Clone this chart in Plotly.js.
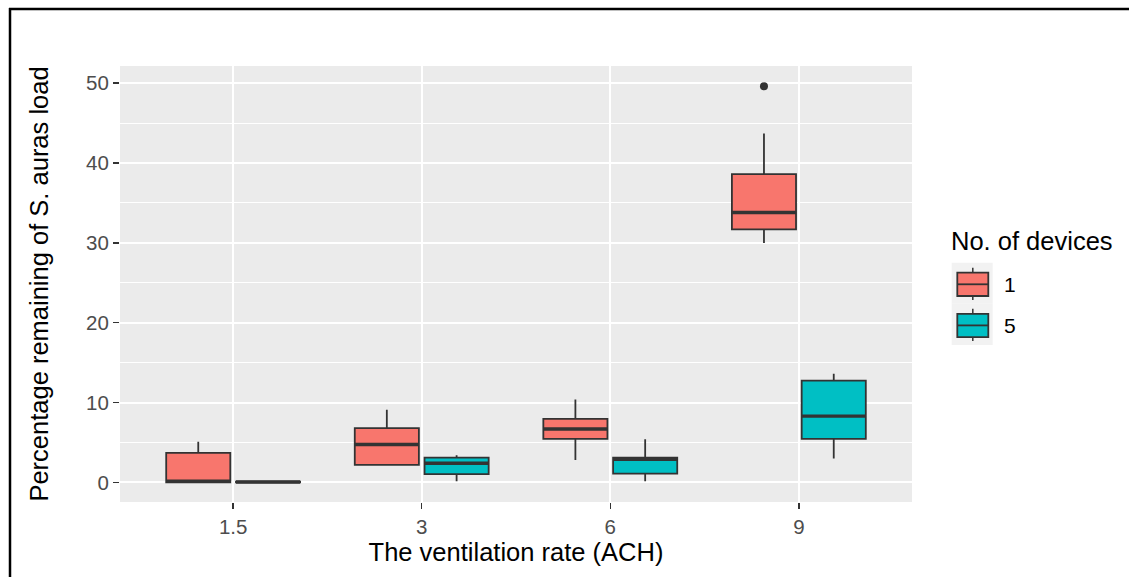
<!DOCTYPE html>
<html>
<head>
<meta charset="utf-8">
<script src="https://cdn.plot.ly/plotly-3.0.1.min.js"></script>
<style>
  html, body { margin: 0; padding: 0; background: #ffffff; overflow: hidden; }
  #chart { width: 1130px; height: 577px; }
</style>
</head>
<body>
<div id="chart"></div>
<script>
// ---- Data ----
const categories = ['1.5', '3', '6', '9'];
const groupNames = ['1', '5'];
const groupColors = ['#F8766D', '#00BFC4'];

// No. of devices = 1
const lower1  = [0.0, 2.2, 2.8, 30.0];
const q1_1    = [0.0, 2.2, 5.45, 31.7];
const median1 = [0.15, 4.75, 6.7, 33.8];
const q3_1    = [3.7, 6.8, 7.95, 38.6];
const upper1  = [5.1, 9.1, 10.4, 43.7];

// No. of devices = 5
const lower5  = [0.0, 0.15, 0.15, 3.0];
const q1_5    = [0.0, 1.05, 1.1, 5.45];
const median5 = [0.05, 2.4, 2.9, 8.3];
const q3_5    = [0.1, 3.1, 3.1, 12.75];
const upper5  = [0.1, 3.4, 5.4, 13.6];

// Outliers
const outlierCategory = ['9'];
const outlierGroup = ['1'];
const outlierValue = [49.6];

const yTickValues = [0, 10, 20, 30, 40, 50];

// ---- Styling / layout ----
const W = 1130, H = 577;
const M = { l: 120, r: 218, t: 66, b: 75 };
const plotW = W - M.l - M.r, plotH = H - M.t - M.b;
const pxX = x => (x - M.l) / plotW;         // pixel -> paper x
const pxY = y => (H - M.b - y) / plotH;     // pixel -> paper y

const dodge = 0.185, boxWidth = 0.34;
const groupOffset = [-dodge, dodge];
const outline = '#333333';
const font = 'Liberation Sans, Arial, sans-serif';
const titleSize = 25.5;

const stats = [
  { lower: lower1, q1: q1_1, median: median1, q3: q3_1, upper: upper1 },
  { lower: lower5, q1: q1_5, median: median5, q3: q3_5, upper: upper5 }
];

const traces = stats.map((s, g) => ({
  type: 'box',
  name: groupNames[g],
  x: categories.map((c, i) => i + groupOffset[g]),
  q1: s.q1, median: s.median, q3: s.q3,
  lowerfence: s.lower, upperfence: s.upper,
  width: boxWidth,
  whiskerwidth: 0,
  fillcolor: groupColors[g],
  line: { color: outline, width: 1.8 },
  boxpoints: false,
  showlegend: false,
  hoverinfo: 'skip'
}));

traces.push({
  type: 'scatter',
  mode: 'markers',
  x: outlierCategory.map((c, k) => categories.indexOf(c) + groupOffset[groupNames.indexOf(outlierGroup[k])]),
  y: outlierValue,
  marker: { color: outline, size: 8 },
  showlegend: false,
  hoverinfo: 'skip'
});

const shapes = [];
// thick median lines (ggplot style)
stats.forEach((s, g) => {
  s.median.forEach((m, i) => {
    const xc = i + groupOffset[g];
    shapes.push({ type: 'line', xref: 'x', yref: 'y',
      x0: xc - boxWidth / 2, x1: xc + boxWidth / 2, y0: m, y1: m,
      line: { color: outline, width: 3.4 } });
  });
});

// custom legend (ggplot style keys)
const keyLeft = 951.7, keyRight = 992.7, keyH = 41.1, firstKeyTop = 262.7;
const glyphL = 957.3, glyphR = 988.3, glyphC = 972.8;
const annotations = [{
  text: 'No. of devices', xref: 'paper', yref: 'paper',
  x: pxX(948.5), y: pxY(241), xanchor: 'left', yanchor: 'middle',
  showarrow: false, font: { family: font, size: titleSize, color: '#000000' }
}];
groupNames.forEach((name, g) => {
  const k = firstKeyTop + g * keyH;
  shapes.push({ type: 'rect', xref: 'paper', yref: 'paper', layer: 'above',
    x0: pxX(keyLeft), x1: pxX(keyRight), y0: pxY(k), y1: pxY(k + keyH),
    fillcolor: '#F2F2F2', line: { width: 0 } });
  shapes.push({ type: 'line', xref: 'paper', yref: 'paper', layer: 'above',
    x0: pxX(glyphC), x1: pxX(glyphC), y0: pxY(k + 5), y1: pxY(k + 37.3),
    line: { color: outline, width: 1.5 } });
  shapes.push({ type: 'rect', xref: 'paper', yref: 'paper', layer: 'above',
    x0: pxX(glyphL), x1: pxX(glyphR), y0: pxY(k + 10), y1: pxY(k + 33.3),
    fillcolor: groupColors[g], line: { color: outline, width: 1.8 } });
  shapes.push({ type: 'line', xref: 'paper', yref: 'paper', layer: 'above',
    x0: pxX(glyphL), x1: pxX(glyphR), y0: pxY(k + 21.6), y1: pxY(k + 21.6),
    line: { color: outline, width: 1.8 } });
  annotations.push({ text: name, xref: 'paper', yref: 'paper',
    x: pxX(1002), y: pxY(k + 21.5), xanchor: 'left', yanchor: 'middle',
    showarrow: false, font: { family: font, size: 21, color: '#000000' } });
});

// outer frame of the picture (left and top edges only)
shapes.push({ type: 'line', xref: 'paper', yref: 'paper', layer: 'above',
  x0: pxX(10), x1: pxX(10), y0: pxY(H), y1: pxY(8),
  line: { color: '#000000', width: 2.5 } });
shapes.push({ type: 'line', xref: 'paper', yref: 'paper', layer: 'above',
  x0: pxX(9), x1: pxX(W - 1), y0: pxY(9), y1: pxY(9),
  line: { color: '#000000', width: 2.5 } });

const layout = {
  width: W, height: H,
  margin: M,
  paper_bgcolor: '#FFFFFF',
  plot_bgcolor: '#EBEBEB',
  font: { family: font },
  boxmode: 'overlay',
  showlegend: false,
  xaxis: {
    range: [-0.6, 3.6],
    tickvals: categories.map((c, i) => i),
    ticktext: categories,
    showgrid: true, gridcolor: '#FFFFFF', gridwidth: 2,
    zeroline: false, showline: false,
    ticks: 'outside', ticklen: 6, tickwidth: 1.5, tickcolor: outline,
    tickfont: { family: font, size: 20.5, color: '#4D4D4D' },
    title: { text: 'The ventilation rate (ACH)', standoff: 6,
      font: { family: font, size: titleSize, color: '#000000' } },
    fixedrange: true
  },
  yaxis: {
    range: [-2.45, 52.15],
    tickvals: yTickValues,
    showgrid: true, gridcolor: '#FFFFFF', gridwidth: 2,
    minor: { tick0: 5, dtick: 10, showgrid: true, gridcolor: '#FFFFFF', gridwidth: 1, ticks: '' },
    zeroline: false, showline: false,
    ticks: 'outside', ticklen: 6, tickwidth: 1.5, tickcolor: outline,
    tickfont: { family: font, size: 20.5, color: '#4D4D4D' },
    title: { text: 'Percentage remaining of S. auras load', standoff: 30,
      font: { family: font, size: titleSize, color: '#000000' } },
    fixedrange: true
  },
  shapes: shapes,
  annotations: annotations
};

Plotly.newPlot('chart', traces, layout, { displayModeBar: false, staticPlot: true });
</script>
</body>
</html>
